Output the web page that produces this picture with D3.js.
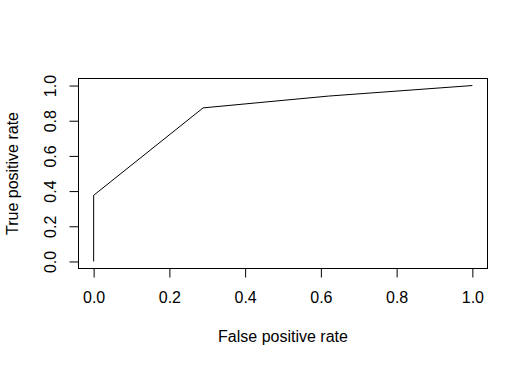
<!DOCTYPE html>
<html>
<head>
<meta charset="utf-8">
<script src="https://cdn.jsdelivr.net/npm/d3@7/dist/d3.min.js"></script>
<style>
  html, body { margin: 0; padding: 0; background: #fff; }
  svg text { font-family: Arial, "Liberation Sans", sans-serif; fill: #000; }
</style>
</head>
<body>
<svg id="chart" width="528" height="366"></svg>
<script>
const fpr = [0, 0, 0.289, 0.62, 1.0];
const tpr = [0, 0.376, 0.873, 0.940, 1.0];
const xTicks = [0, 0.2, 0.4, 0.6, 0.8, 1.0];
const yTicks = [0, 0.2, 0.4, 0.6, 0.8, 1.0];
const xTitle = "False positive rate";
const yTitle = "True positive rate";

(function () {
const svg = d3.select("#chart");
const pl = 78.5, pr = 487.5, pt = 78.5, pb = 268.5;

const x = d3.scaleLinear().domain([-0.04, 1.04]).range([pl, pr]);
const y = d3.scaleLinear().domain([-0.04, 1.04]).range([pb, pt]);
const fmt = d3.format(".1f");

// box
svg.append("rect")
  .attr("x", pl).attr("y", pt)
  .attr("width", pr - pl).attr("height", pb - pt)
  .attr("fill", "none").attr("stroke", "#000").attr("stroke-width", 1);

// x axis
const xa = svg.append("g")
  .attr("transform", `translate(0,${pb})`)
  .call(d3.axisBottom(x).tickValues(xTicks).tickFormat(fmt).tickSize(9).tickPadding(0));
xa.select(".domain").remove();
xa.selectAll(".tick line").attr("stroke", "#000");
xa.selectAll(".tick text")
  .attr("y", 34.5).attr("dy", null)
  .attr("font-size", 16);

// y axis
const ya = svg.append("g")
  .attr("transform", `translate(${pl},0)`)
  .call(d3.axisLeft(y).tickValues(yTicks).tickFormat(fmt).tickSize(9).tickPadding(0));
ya.select(".domain").remove();
ya.selectAll(".tick line").attr("stroke", "#000");
ya.selectAll(".tick text")
  .attr("x", 0).attr("y", -23).attr("dy", null)
  .attr("transform", "rotate(-90)")
  .attr("text-anchor", "middle")
  .attr("font-size", 16);

// titles
svg.append("text")
  .attr("x", (pl + pr) / 2).attr("y", 342)
  .attr("text-anchor", "middle").attr("font-size", 16)
  .text(xTitle);
svg.append("text")
  .attr("transform", `translate(17.5,${(pt + pb) / 2}) rotate(-90)`)
  .attr("text-anchor", "middle").attr("font-size", 16)
  .text(yTitle);

// curve
const pts = fpr.map((f, i) => [f, tpr[i]]);
svg.append("path")
  .datum(pts)
  .attr("d", d3.line().x(d => x(d[0])).y(d => y(d[1])))
  .attr("fill", "none").attr("stroke", "#000").attr("stroke-width", 1);
})();
</script>
</body>
</html>
